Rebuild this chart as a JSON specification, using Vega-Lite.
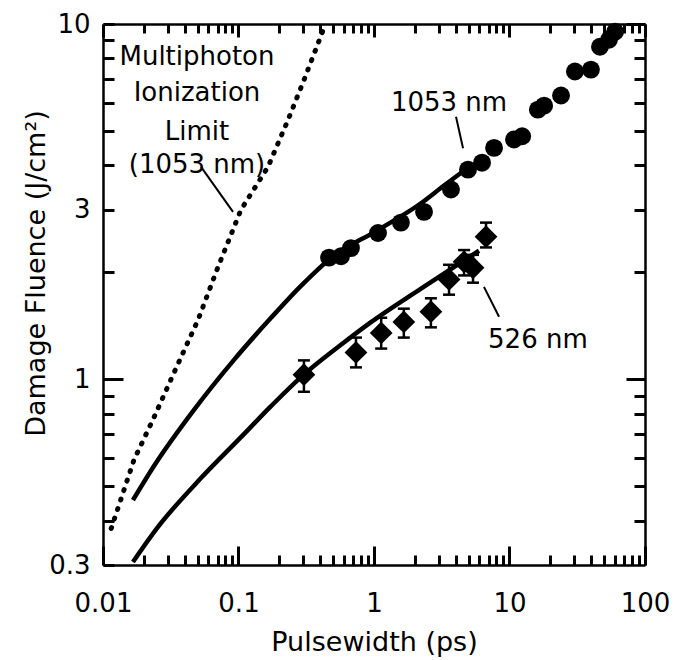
{
  "$schema": "https://vega.github.io/schema/vega-lite/v6.json",
  "width": 542,
  "height": 541,
  "autosize": "none",
  "padding": {"left": 103, "top": 24, "right": 33, "bottom": 95},
  "background": "white",
  "config": {
    "view": {"stroke": null},
    "font": "DejaVu Sans",
    "axis": {"grid": false, "domainColor": "black", "domainWidth": 2.5, "tickColor": "black", "tickWidth": 3, "labelColor": "black", "titleColor": "black", "labelFont": "DejaVu Sans", "titleFont": "DejaVu Sans", "labelOverlap": false, "labelBound": false, "labelFlush": false}
  },
  "datasets": {
    "c1053": [
      {"x": 0.466, "y": 2.20}, {"x": 0.571, "y": 2.22}, {"x": 0.676, "y": 2.34}, {"x": 1.07, "y": 2.58},
      {"x": 1.58, "y": 2.76}, {"x": 2.34, "y": 2.96}, {"x": 3.70, "y": 3.42}, {"x": 4.94, "y": 3.89},
      {"x": 6.27, "y": 4.07}, {"x": 7.69, "y": 4.48}, {"x": 10.8, "y": 4.73}, {"x": 12.4, "y": 4.83},
      {"x": 16.2, "y": 5.74}, {"x": 18.0, "y": 5.89}, {"x": 24.0, "y": 6.29}, {"x": 30.4, "y": 7.35},
      {"x": 39.9, "y": 7.44}, {"x": 46.5, "y": 8.63}, {"x": 54.2, "y": 9.03}, {"x": 60.1, "y": 9.51}
    ],
    "d526": [
      {"x": 0.304, "y": 1.03, "lo": 0.922, "hi": 1.13},
      {"x": 0.736, "y": 1.19, "lo": 1.08, "hi": 1.31},
      {"x": 1.13, "y": 1.35, "lo": 1.22, "hi": 1.49},
      {"x": 1.66, "y": 1.45, "lo": 1.31, "hi": 1.58},
      {"x": 2.63, "y": 1.55, "lo": 1.40, "hi": 1.69},
      {"x": 3.58, "y": 1.91, "lo": 1.73, "hi": 2.10},
      {"x": 4.62, "y": 2.14, "lo": 1.96, "hi": 2.31},
      {"x": 5.38, "y": 2.06, "lo": 1.87, "hi": 2.24},
      {"x": 6.71, "y": 2.52, "lo": 2.35, "hi": 2.76}
    ],
    "fit1053": [
      {"x": 0.01664, "y": 0.457}, {"x": 0.02378, "y": 0.570}, {"x": 0.04693, "y": 0.820}, {"x": 0.09263, "y": 1.134},
      {"x": 0.1738, "y": 1.489}, {"x": 0.2892, "y": 1.832}, {"x": 0.4817, "y": 2.196}, {"x": 1.07, "y": 2.63},
      {"x": 2.223, "y": 3.13}, {"x": 3.286, "y": 3.51}, {"x": 4.94, "y": 3.94}
    ],
    "fit526": [
      {"x": 0.01664, "y": 0.306}, {"x": 0.02547, "y": 0.384}, {"x": 0.05286, "y": 0.527}, {"x": 0.1043, "y": 0.687},
      {"x": 0.1738, "y": 0.840}, {"x": 0.2892, "y": 1.014}, {"x": 0.5706, "y": 1.25}, {"x": 0.9503, "y": 1.448},
      {"x": 2.223, "y": 1.80}, {"x": 5.956, "y": 2.30}
    ],
    "mpi": [
      {"x": 0.0115, "y": 0.38}, {"x": 0.01693, "y": 0.593}, {"x": 0.02378, "y": 0.781}, {"x": 0.0334, "y": 1.043},
      {"x": 0.0503, "y": 1.47}, {"x": 0.0706, "y": 2.07}, {"x": 0.1043, "y": 3.0}, {"x": 0.165, "y": 3.96},
      {"x": 0.232, "y": 5.37}, {"x": 0.304, "y": 6.95}, {"x": 0.421, "y": 9.6}, {"x": 0.44, "y": 10}
    ],
    "leaders": [
      {"x": 0.0529, "y": 3.96, "x2": 0.0911, "y2": 2.96},
      {"x": 4.03, "y": 5.48, "x2": 4.54, "y2": 4.47},
      {"x": 6.48, "y": 1.82, "x2": 8.37, "y2": 1.50}
    ],
    "labels": [
      {"t": "Multiphoton", "x": 0.0494, "y": 8.08},
      {"t": "Ionization", "x": 0.0494, "y": 6.38},
      {"t": "Limit", "x": 0.0494, "y": 4.98},
      {"t": "(1053 nm)", "x": 0.0494, "y": 4.01},
      {"t": "1053 nm", "x": 3.58, "y": 6.0},
      {"t": "526 nm", "x": 16.2, "y": 1.29}
    ]
  },
  "resolve": {"axis": {"x": "independent", "y": "independent"}},
  "layer": [
    {
      "data": {"name": "mpi"},
      "mark": {"type": "line", "color": "black", "strokeWidth": 5, "strokeDash": [1, 9], "strokeCap": "round", "clip": true},
      "encoding": {
        "x": {"field": "x", "type": "quantitative", "scale": {"type": "log", "domain": [0.01, 100], "nice": false},
          "axis": {"orient": "bottom", "values": [0.01, 0.1, 1, 10, 100], "format": "~g",
            "tickSize": -19, "labelPadding": 44, "labelFontSize": 26,
            "title": "Pulsewidth (ps)", "titleFontSize": 27, "titleFontWeight": "normal", "titlePadding": 13}},
        "y": {"field": "y", "type": "quantitative", "scale": {"type": "log", "domain": [0.3, 10], "nice": false},
          "axis": {"orient": "left", "values": [0.3, 1, 3, 10], "format": "~g",
            "tickSize": -11, "labelPadding": 24, "labelFontSize": 26,
            "title": "Damage Fluence (J/cm²)", "titleFontSize": 27, "titleFontWeight": "normal",
            "titleX": -67, "titleY": 249, "titleBaseline": "middle"}}
      }
    },
    {
      "data": {"name": "fit1053"},
      "mark": {"type": "line", "color": "black", "strokeWidth": 4.5, "interpolate": "monotone", "clip": true},
      "encoding": {
        "x": {"field": "x", "type": "quantitative",
          "axis": {"orient": "bottom", "title": null, "labels": false, "domain": false,
            "values": [0.02,0.03,0.04,0.05,0.06,0.07,0.08,0.09,0.2,0.3,0.4,0.5,0.6,0.7,0.8,0.9,2,3,4,5,6,7,8,9,20,30,40,50,60,70,80,90],
            "tickSize": -10}},
        "y": {"field": "y", "type": "quantitative",
          "axis": {"orient": "left", "title": null, "labels": false, "domain": false,
            "values": [0.4,0.5,0.6,0.7,0.8,0.9,2,4,5,6,7,8,9],
            "tickSize": -11}}
      }
    },
    {
      "data": {"name": "fit526"},
      "mark": {"type": "line", "color": "black", "strokeWidth": 4.5, "interpolate": "monotone", "clip": true},
      "encoding": {
        "x": {"field": "x", "type": "quantitative",
          "axis": {"orient": "top", "title": null, "labels": false,
            "values": [0.01, 0.1, 1, 10, 100], "tickSize": -13}},
        "y": {"field": "y", "type": "quantitative",
          "axis": {"orient": "left", "title": null, "labels": false, "domain": false,
            "values": [1], "tickSize": -20}}
      }
    },
    {
      "data": {"name": "d526"},
      "mark": {"type": "rule", "color": "black", "strokeWidth": 2.5},
      "encoding": {
        "x": {"field": "x", "type": "quantitative",
          "axis": {"orient": "top", "title": null, "labels": false, "domain": false,
            "values": [0.02,0.03,0.04,0.05,0.06,0.07,0.08,0.09,0.2,0.3,0.4,0.5,0.6,0.7,0.8,0.9,2,3,4,5,6,7,8,9,20,30,40,50,60,70,80,90],
            "tickSize": -9}},
        "y": {"field": "lo", "type": "quantitative",
          "axis": {"orient": "right", "title": null, "labels": false,
            "values": [0.4,0.5,0.6,0.7,0.8,0.9,2,3,4,5,6,7,8,9],
            "tickSize": -11}},
        "y2": {"field": "hi"}
      }
    },
    {
      "data": {"name": "d526"},
      "mark": {"type": "tick", "orient": "horizontal", "color": "black", "opacity": 1, "size": 12, "thickness": 2.5},
      "encoding": {
        "x": {"field": "x", "type": "quantitative", "axis": null},
        "y": {"field": "lo", "type": "quantitative",
          "axis": {"orient": "right", "title": null, "labels": false, "domain": false,
            "values": [1, 10], "tickSize": -19}}
      }
    },
    {
      "data": {"name": "d526"},
      "mark": {"type": "tick", "orient": "horizontal", "color": "black", "opacity": 1, "size": 12, "thickness": 2.5},
      "encoding": {
        "x": {"field": "x", "type": "quantitative", "axis": null},
        "y": {"field": "hi", "type": "quantitative", "axis": null}
      }
    },
    {
      "data": {"name": "d526"},
      "mark": {"type": "point", "shape": "diamond", "filled": true, "color": "black", "opacity": 1, "size": 520},
      "encoding": {
        "x": {"field": "x", "type": "quantitative", "axis": null},
        "y": {"field": "y", "type": "quantitative", "axis": null}
      }
    },
    {
      "data": {"name": "c1053"},
      "mark": {"type": "point", "shape": "circle", "filled": true, "color": "black", "opacity": 1, "size": 320},
      "encoding": {
        "x": {"field": "x", "type": "quantitative", "axis": null},
        "y": {"field": "y", "type": "quantitative", "axis": null}
      }
    },
    {
      "data": {"name": "leaders"},
      "mark": {"type": "rule", "color": "black", "strokeWidth": 2},
      "encoding": {
        "x": {"field": "x", "type": "quantitative", "axis": null},
        "y": {"field": "y", "type": "quantitative", "axis": null},
        "x2": {"field": "x2"},
        "y2": {"field": "y2"}
      }
    },
    {
      "data": {"name": "labels"},
      "mark": {"type": "text", "color": "black", "fontSize": 26, "align": "center", "baseline": "middle", "font": "DejaVu Sans"},
      "encoding": {
        "x": {"field": "x", "type": "quantitative", "axis": null},
        "y": {"field": "y", "type": "quantitative", "axis": null},
        "text": {"field": "t"}
      }
    }
  ]
}
